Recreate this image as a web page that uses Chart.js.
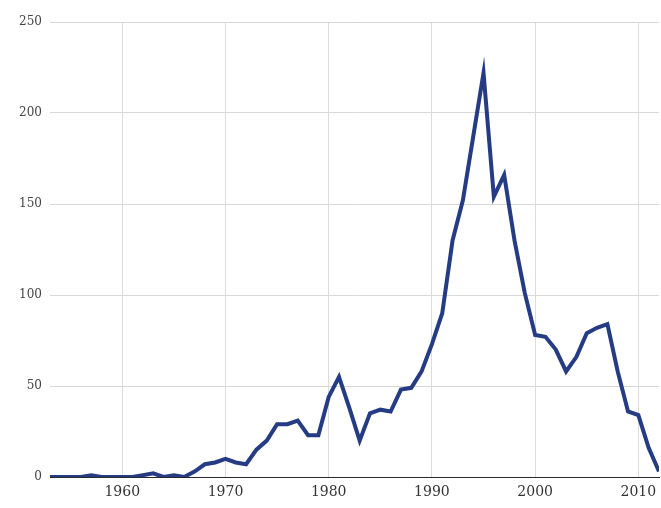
<!DOCTYPE html>
<html>
<head>
<meta charset="utf-8">
<script src="https://cdn.jsdelivr.net/npm/chart.js@4/dist/chart.umd.min.js"></script>
<style>
  html, body { margin: 0; padding: 0; background: #fff; }
  #wrap { width: 661px; height: 508px; }
</style>
</head>
<body>
<div id="wrap"><canvas id="c" width="661" height="508"></canvas></div>
<script>
// Yearly counts, 1953–2012
const years = [
  1953, 1954, 1955, 1956, 1957, 1958, 1959, 1960, 1961, 1962,
  1963, 1964, 1965, 1966, 1967, 1968, 1969, 1970, 1971, 1972,
  1973, 1974, 1975, 1976, 1977, 1978, 1979, 1980, 1981, 1982,
  1983, 1984, 1985, 1986, 1987, 1988, 1989, 1990, 1991, 1992,
  1993, 1994, 1995, 1996, 1997, 1998, 1999, 2000, 2001, 2002,
  2003, 2004, 2005, 2006, 2007, 2008, 2009, 2010, 2011, 2012
];
const counts = [
  0, 0, 0, 0, 1, 0, 0, 0, 0, 1,
  2, 0, 1, 0, 3, 7, 8, 10, 8, 7,
  15, 20, 29, 29, 31, 23, 23, 44, 55, 38,
  20, 35, 37, 36, 48, 49, 58, 73, 90, 130,
  152, 187, 222, 154, 166, 130, 101, 78, 77, 70,
  58, 66, 79, 82, 84, 58, 36, 34, 16, 3
];
const xTickYears = [1960, 1970, 1980, 1990, 2000, 2010];
const yTickValues = [0, 50, 100, 150, 200, 250];

const points = years.map((yr, i) => ({ x: yr, y: counts[i] }));

new Chart(document.getElementById('c'), {
  type: 'line',
  data: {
    datasets: [{
      data: points,
      borderColor: '#253c85',
      borderWidth: 4,
      pointRadius: 0,
      pointHoverRadius: 0,
      tension: 0,
      fill: false,
      borderJoinStyle: 'miter'
    }]
  },
  options: {
    responsive: false,
    animation: false,
    devicePixelRatio: 1,
    layout: { padding: { top: 22, right: 2, left: 0, bottom: 0 } },
    plugins: { legend: { display: false }, tooltip: { enabled: false } },
    scales: {
      x: {
        type: 'linear',
        min: years[0],
        max: years[years.length - 1],
        afterBuildTicks: (s) => { s.ticks = xTickYears.map(v => ({ value: v })); },
        afterFit: (s) => { s.height = 31; s.paddingLeft = 0; s.paddingRight = 0; },
        grid: { color: '#dcdcdc', lineWidth: 1, drawTicks: false },
        border: { display: true, color: '#2a2a2a', width: 1 },
        ticks: {
          padding: 7,
          color: '#333',
          font: { family: 'DejaVu Serif', size: 14 },
          callback: (v) => String(v)
        }
      },
      y: {
        type: 'linear',
        min: 0,
        max: 250,
        afterBuildTicks: (s) => { s.ticks = yTickValues.map(v => ({ value: v })); },
        afterFit: (s) => { s.width = 50; },
        grid: { color: '#d8d8d8', lineWidth: 1, drawTicks: false },
        border: { display: false },
        ticks: {
          padding: 8,
          color: '#444',
          font: { family: 'DejaVu Serif', size: 12 },
          callback: (v) => String(v)
        }
      }
    }
  }
});
</script>
</body>
</html>
